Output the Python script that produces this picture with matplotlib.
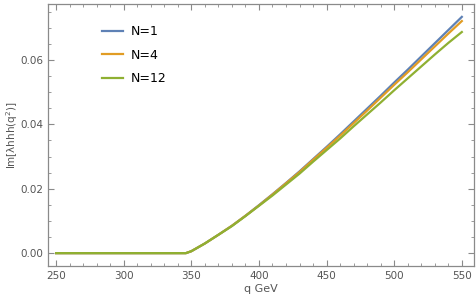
import numpy as np
import matplotlib
matplotlib.use("Agg")
import matplotlib.pyplot as plt
from matplotlib.ticker import MultipleLocator

q = [250, 300, 340, 346, 350, 360, 370, 380, 390, 400, 410, 420, 430, 440,
     450, 460, 470, 480, 490, 500, 510, 520, 530, 540, 550]
im_n1 = [0, 0, 0, 0, 0.0006, 0.0030, 0.0057, 0.0085, 0.0116, 0.0149, 0.0183,
         0.0218, 0.0254, 0.0292, 0.0330, 0.0369, 0.0409, 0.0449, 0.0489,
         0.0530, 0.0570, 0.0611, 0.0652, 0.0693, 0.0734]
im_n4 = [0, 0, 0, 0, 0.0006, 0.0030, 0.0057, 0.0085, 0.0116, 0.0148, 0.0182,
         0.0217, 0.0252, 0.0290, 0.0327, 0.0365, 0.0404, 0.0443, 0.0483,
         0.0523, 0.0562, 0.0602, 0.0642, 0.0682, 0.0721]
im_n12 = [0, 0, 0, 0, 0.0006, 0.0030, 0.0057, 0.0084, 0.0115, 0.0147, 0.0179,
          0.0213, 0.0247, 0.0284, 0.0320, 0.0356, 0.0394, 0.0431, 0.0468,
          0.0506, 0.0543, 0.0580, 0.0617, 0.0653, 0.0687]
labels = ["N=1", "N=4", "N=12"]
colors = ["#5E81B5", "#E19C24", "#8FB032"]

fig = plt.figure(figsize=(4.77, 3.06), dpi=100)
ax = fig.add_axes([48 / 477, 1 - 266 / 306, 426 / 477, 262 / 306])

for ys, lab, c in zip([im_n1, im_n4, im_n12], labels, colors):
    ax.plot(q, ys, color=c, lw=1.6, label=lab)

ax.set_xlim(244, 559)
ax.set_ylim(-0.004, 0.0774)
ax.xaxis.set_major_locator(MultipleLocator(50))
ax.xaxis.set_minor_locator(MultipleLocator(10))
ax.yaxis.set_major_locator(MultipleLocator(0.02))
ax.yaxis.set_minor_locator(MultipleLocator(0.005))
ax.yaxis.set_major_formatter(plt.FormatStrFormatter("%.2f"))

gray = "#8a8a8a"
for s in ax.spines.values():
    s.set_color(gray)
    s.set_linewidth(0.9)
ax.tick_params(which="both", direction="in", top=True, right=True,
               color=gray, labelsize=7.5, labelcolor="#555555")
ax.tick_params(which="major", length=4.5, width=0.8)
ax.tick_params(which="minor", length=2.5, width=0.6)

ax.set_xlabel("q GeV", fontsize=8, color="#555555")
ax.set_ylabel("Im[λhhh(q$^2$)]", fontsize=7.5, color="#555555")
ax.xaxis.set_label_coords(0.5, (266 - 284) / 262, transform=ax.transAxes)
ax.yaxis.set_label_coords((20 - 48) / 426, 0.5, transform=ax.transAxes)

ax.legend(loc="upper left", bbox_to_anchor=(102 / 477, 1 - 25 / 306),
          bbox_transform=fig.transFigure, frameon=False, fontsize=9,
          handlelength=1.7, handletextpad=0.6, labelspacing=0.85,
          borderaxespad=0, borderpad=0)

fig.savefig("out.png", dpi=100)
